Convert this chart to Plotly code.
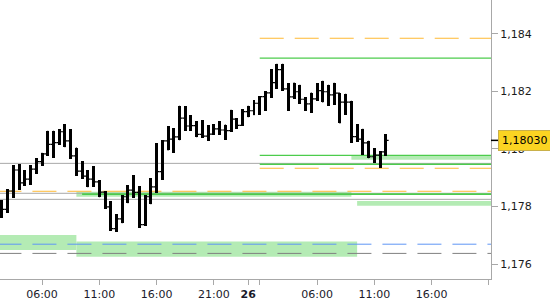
import pandas as pd
import plotly.graph_objects as go

# ---- data (30-minute bars) ----
bar_start = "2017-09-25 02:30"
n_bars = 68
times = pd.date_range(bar_start, periods=n_bars, freq="30min")

highs = [1.17823, 1.17861, 1.17944, 1.17948, 1.17927, 1.17944, 1.17969, 1.17987, 1.18063, 1.18063,
         1.18069, 1.18087, 1.18069, 1.18005, 1.17958, 1.17927, 1.17941, 1.17892, 1.17854, 1.17819,
         1.17774, 1.17840, 1.17874, 1.17910, 1.17871, 1.17840, 1.17899, 1.18021, 1.18031, 1.18080,
         1.18073, 1.18150, 1.18148, 1.18118, 1.18096, 1.18101, 1.18083, 1.18087, 1.18097, 1.18085,
         1.18136, 1.18108, 1.18138, 1.18150, 1.18170, 1.18184, 1.18202, 1.18278, 1.18296, 1.18296,
         1.18229, 1.18231, 1.18223, 1.18180, 1.18196, 1.18229, 1.18237, 1.18223, 1.18230, 1.18194,
         1.18192, 1.18168, 1.18087, 1.18070, 1.18029, 1.18003, 1.17993, 1.18052]
lows = [1.17761, 1.17778, 1.17831, 1.17857, 1.17872, 1.17875, 1.17913, 1.17942, 1.17976, 1.17970,
        1.18014, 1.18006, 1.17965, 1.17906, 1.17897, 1.17867, 1.17868, 1.17832, 1.17793, 1.17716,
        1.17711, 1.17742, 1.17811, 1.17831, 1.17727, 1.17734, 1.17808, 1.17847, 1.17892, 1.17995,
        1.17987, 1.18030, 1.18064, 1.18064, 1.18041, 1.18038, 1.18029, 1.18049, 1.18050, 1.18031,
        1.18059, 1.18071, 1.18080, 1.18110, 1.18117, 1.18118, 1.18132, 1.18179, 1.18210, 1.18203,
        1.18133, 1.18174, 1.18157, 1.18132, 1.18126, 1.18168, 1.18162, 1.18151, 1.18153, 1.18089,
        1.18118, 1.18021, 1.18024, 1.17979, 1.17968, 1.17952, 1.17934, 1.17977]
closes = [1.17790, 1.17854, 1.17927, 1.17882, 1.17895, 1.17930, 1.17956, 1.17983, 1.18016, 1.18022,
          1.18060, 1.18028, 1.17976, 1.17923, 1.17906, 1.17895, 1.17886, 1.17850, 1.17799, 1.17723,
          1.17757, 1.17834, 1.17857, 1.17849, 1.17737, 1.17834, 1.17868, 1.17921, 1.18028, 1.18034,
          1.18042, 1.18107, 1.18080, 1.18081, 1.18051, 1.18045, 1.18052, 1.18070, 1.18066, 1.18064,
          1.18104, 1.18082, 1.18130, 1.18133, 1.18159, 1.18182, 1.18195, 1.18231, 1.18276, 1.18209,
          1.18181, 1.18199, 1.18173, 1.18157, 1.18174, 1.18203, 1.18199, 1.18188, 1.18194, 1.18163,
          1.18163, 1.18043, 1.18034, 1.18021, 1.17973, 1.17979, 1.17990, 1.18030]
opens = [1.17805, 1.17790, 1.17854, 1.17927, 1.17882, 1.17895, 1.17930, 1.17956, 1.17983, 1.18016,
         1.18022, 1.18060, 1.18028, 1.17976, 1.17923, 1.17906, 1.17895, 1.17886, 1.17850, 1.17799,
         1.17723, 1.17757, 1.17834, 1.17857, 1.17849, 1.17737, 1.17834, 1.17868, 1.17921, 1.18028,
         1.18034, 1.18042, 1.18107, 1.18080, 1.18081, 1.18051, 1.18045, 1.18052, 1.18070, 1.18066,
         1.18064, 1.18104, 1.18082, 1.18130, 1.18133, 1.18159, 1.18182, 1.18195, 1.18231, 1.18276,
         1.18209, 1.18181, 1.18199, 1.18173, 1.18157, 1.18174, 1.18203, 1.18199, 1.18188, 1.18194,
         1.18163, 1.18163, 1.18043, 1.18034, 1.18021, 1.17973, 1.17979, 1.17990]
current_price = 1.18030

# horizontal levels
full_levels = [  # (price, colour, dash, width)
    (1.17950, "#a8a8a8", "solid", 1),
    (1.17853, "#ffb933", "24px,11px", 1),
    (1.17846, "#a8a8a8", "solid", 1),
    (1.17825, "#a8a8a8", "solid", 1),
    (1.17669, "#5f95f5", "24px,11px", 1),
    (1.17637, "#808080", "24px,11px", 1),
]
partial_levels = [  # (price, start, colour, dash, width)
    (1.17843, "2017-09-25 09:30", "#4ccc4c", "solid", 1.6),
    (1.18385, "2017-09-26 01:00", "#ffb933", "24px,11px", 1),
    (1.18316, "2017-09-26 01:00", "#4ccc4c", "solid", 1.3),
    (1.17978, "2017-09-26 01:00", "#4ccc4c", "solid", 1.3),
    (1.17947, "2017-09-26 01:00", "#4ccc4c", "solid", 1.6),
    (1.17933, "2017-09-26 01:00", "#ffb933", "24px,11px", 1),
]
zones = [  # (start, end, low, high)
    ("2017-09-24 20:00", "2017-09-25 09:00", 1.17649, 1.17701),
    ("2017-09-25 09:00", "2017-09-26 09:30", 1.17625, 1.17678),
    ("2017-09-25 09:00", "2017-09-26 09:00", 1.17834, 1.17851),
    ("2017-09-26 09:00", "2017-09-27 06:00", 1.17963, 1.17978),
    ("2017-09-26 09:30", "2017-09-27 06:00", 1.17803, 1.17819),
]

x_range = ["2017-09-25 02:20", "2017-09-26 21:11"]
y_range = [1.17548, 1.18518]
far_start = "2017-09-24 20:00"
far_end = "2017-09-27 06:00"

tick_times = ["2017-09-25 06:00", "2017-09-25 11:00", "2017-09-25 16:00", "2017-09-25 21:00",
              "2017-09-26 00:00", "2017-09-26 01:00", "2017-09-26 06:00", "2017-09-26 11:00",
              "2017-09-26 16:00", "2017-09-26 21:00"]
tick_text = ["06:00", "11:00", "16:00", "21:00", "<b>26</b>", "", "06:00", "11:00", "16:00", ""]

FONT = "DejaVu Sans"
BODY_MS = 0.26 * 3600 * 1000  # visual thickness of the high-low body

fig = go.Figure()
# thick high-low bodies
fig.add_trace(go.Bar(
    x=times, y=[h - l for h, l in zip(highs, lows)], base=lows, width=BODY_MS,
    marker=dict(color="black", line=dict(width=0)), showlegend=False, hoverinfo="skip",
))
# thin open / close ticks
fig.add_trace(go.Ohlc(
    x=times, open=opens, high=highs, low=lows, close=closes,
    increasing=dict(line=dict(color="black", width=1.2)),
    decreasing=dict(line=dict(color="black", width=1.2)),
    tickwidth=0.5, showlegend=False, hoverinfo="skip",
))

shapes = []
for x0, x1, lo, hi in zones:
    shapes.append(dict(type="rect", xref="x", yref="y", x0=x0, x1=x1, y0=lo, y1=hi,
                       fillcolor="#b4ebb4", line=dict(width=0), layer="below"))
for price, color, dash, w in full_levels:
    shapes.append(dict(type="line", xref="x", yref="y", x0=far_start, x1=far_end, y0=price, y1=price,
                       line=dict(color=color, width=w, dash=dash), layer="below"))
for price, start, color, dash, w in partial_levels:
    shapes.append(dict(type="line", xref="x", yref="y", x0=start, x1=far_end, y0=price, y1=price,
                       line=dict(color=color, width=w, dash=dash), layer="below"))
# current-price marker tick on the axis
shapes.append(dict(type="line", xref="paper", yref="y", x0=1, x1=1.015,
                   y0=current_price, y1=current_price, line=dict(color="black", width=1.5)))

fig.update_layout(
    width=550, height=300,
    margin=dict(l=0, r=59, t=0, b=21),
    paper_bgcolor="white", plot_bgcolor="white",
    separators=", ",
    font=dict(family=FONT, size=11, color="#1a1a1a"),
    shapes=shapes,
    showlegend=False,
    bargap=0,
    xaxis=dict(
        type="date", range=x_range, rangeslider=dict(visible=False),
        showgrid=False, zeroline=False,
        showline=True, linecolor="#a8a8a8", linewidth=1,
        ticks="outside", ticklen=5, tickcolor="#a8a8a8",
        tickvals=tick_times, ticktext=tick_text,
        tickfont=dict(family=FONT, size=11, color="#1a1a2a"),
        fixedrange=True,
    ),
    yaxis=dict(
        side="right", range=y_range, tick0=1.176, dtick=0.002,
        showgrid=False, zeroline=False,
        showline=True, linecolor="#a8a8a8", linewidth=1,
        ticks="outside", ticklen=6, tickcolor="#a8a8a8",
        tickfont=dict(family=FONT, size=11, color="#1a1a1a"),
        fixedrange=True,
    ),
    annotations=[dict(
        xref="paper", yref="y", x=1, y=current_price, xanchor="left", yanchor="middle",
        xshift=7, showarrow=False,
        text=f"{current_price:.5f}".replace(".", ","),
        font=dict(family=FONT, size=11, color="black"),
        bgcolor="#fbd422", bordercolor="#c9b04a", borderwidth=1, borderpad=3,
    )],
)

fig.write_html("out.html")
